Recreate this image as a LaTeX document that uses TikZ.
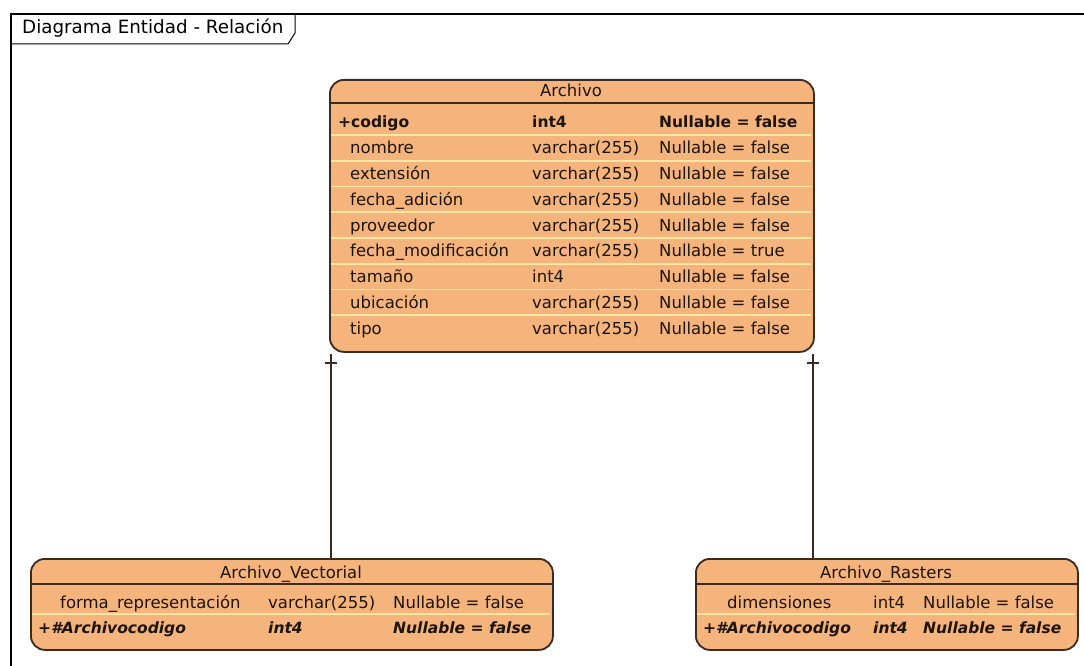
\documentclass[tikz,border=0pt]{standalone}
\usepackage{fontspec}
\setmainfont{DejaVu Sans}
\definecolor{entfill}{HTML}{F4B47C}
\definecolor{entline}{HTML}{3A2A20}
\definecolor{rowline}{HTML}{FCE8A4}
\definecolor{ink}{HTML}{1E140C}
\begin{document}
\begin{tikzpicture}[x=1pt,y=-1pt,
  font=\fontsize{16.5}{19}\selectfont,
  entity/.style={draw=entline, line width=1.8pt, fill=entfill, rounded corners=14pt,
                 inner sep=0pt, anchor=north west},
  cell/.style={anchor=base west, inner sep=0pt, text=ink},
  title/.style={anchor=base, inner sep=0pt, text=ink},
  key/.style={cell, font=\fontsize{15.5}{18}\selectfont\bfseries},
  fkey/.style={cell, font=\fontsize{15.5}{18}\selectfont\bfseries\itshape},
  headrule/.style={draw=entline, line width=1.4pt},
  rowrule/.style={draw=rowline, line width=1.8pt},
  link/.style={draw=entline, line width=1.3pt},
  frame/.style={draw=black, line width=1.6pt}]
\useasboundingbox (0,0) rectangle (1084,666);
\fill[white] (0,0) rectangle (1084,666);

% diagram frame and its name tab
\draw[frame] (11,666) -- (11,14) -- (1084,14);
\node[cell, text=black, font=\fontsize{18.3}{21}\selectfont] (diagname) at (22,34) {Diagrama Entidad - Relación};
\draw[draw=black, line width=1pt] (11,44) -- (288,44) -- (295,33) -- (295,14);

% ---------- Archivo ----------
\node[entity, minimum width=484pt, minimum height=272pt] (archivo) at (329,79) {};
\draw[headrule] (329,103) -- (813,103);
\foreach \k in {0,...,7}
  \draw[rowrule] (331,{134.9+25.75*\k}) -- (811,{134.9+25.75*\k});
\node[title] (archivo-name) at (571,97) {Archivo};
\node[key] (a-c1) at (338,128) {+codigo};
\node[key] (a-t1) at (532,128) {int4};
\node[key] (a-n1) at (659,128) {Nullable = false};
\foreach \i/\c/\t/\n in {
    1/nombre/varchar(255)/false,
    2/extensión/varchar(255)/false,
    3/fecha\_adición/varchar(255)/false,
    4/proveedor/varchar(255)/false,
    5/fecha\_modificación/varchar(255)/true,
    6/tamaño/int4/false,
    7/ubicación/varchar(255)/false,
    8/tipo/varchar(255)/false} {
  \node[cell] (a-c\i x) at (350,{128+25.75*\i}) {\c};
  \node[cell] (a-t\i x) at (532,{128+25.75*\i}) {\t};
  \node[cell] (a-n\i x) at (659,{128+25.75*\i}) {Nullable = \n};
}

% ---------- Archivo_Vectorial ----------
\node[entity, minimum width=522pt, minimum height=91pt] (vect) at (30,558) {};
\draw[headrule] (30,584) -- (552,584);
\draw[rowrule] (32,614) -- (550,614);
\node[title] (vect-name) at (291,578) {Archivo\_Vectorial};
\node[cell] (v-c1) at (60,608) {forma\_representación};
\node[cell] (v-t1) at (268,608) {varchar(255)};
\node[cell] (v-n1) at (393,608) {Nullable = false};
\node[fkey] (v-c2) at (38,633) {+\#Archivocodigo};
\node[fkey] (v-t2) at (268,633) {int4};
\node[fkey] (v-n2) at (393,633) {Nullable = false};

% ---------- Archivo_Rasters ----------
\node[entity, minimum width=382pt, minimum height=91pt] (rast) at (695,558) {};
\draw[headrule] (695,584) -- (1077,584);
\draw[rowrule] (697,614) -- (1075,614);
\node[title] (rast-name) at (886,578) {Archivo\_Rasters};
\node[cell] (r-c1) at (727,608) {dimensiones};
\node[cell] (r-t1) at (873,608) {int4};
\node[cell] (r-n1) at (923,608) {Nullable = false};
\node[fkey] (r-c2) at (703,633) {+\#Archivocodigo};
\node[fkey] (r-t2) at (873,633) {int4};
\node[fkey] (r-n2) at (923,633) {Nullable = false};

% ---------- relationships (one side marked with a bar) ----------
\coordinate (lx) at (331,354);
\coordinate (rx) at (813,354);
\draw[link] (lx) -- (vect.north -| lx);
\draw[link] (rx) -- (rast.north -| rx);
\coordinate (lbar) at (331,363);
\coordinate (rbar) at (813,363);
\draw[link] ([xshift=-6pt]lbar) -- ([xshift=6pt]lbar);
\draw[link] ([xshift=-6pt]rbar) -- ([xshift=6pt]rbar);
\end{tikzpicture}
\end{document}
